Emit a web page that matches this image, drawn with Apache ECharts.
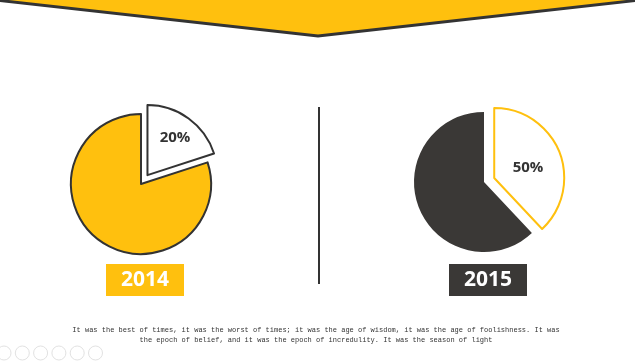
<!DOCTYPE html>
<html><head><meta charset="utf-8">
<script src="https://cdn.jsdelivr.net/npm/echarts@6/dist/echarts.min.js"></script>
<style>html,body{margin:0;padding:0;background:#fff}#c{width:635px;height:361px}</style>
</head><body><div id="c"></div>
<script>
const years = ['2014', '2015'];
const sliceNames = ['Highlighted', 'Rest'];
const pie2014 = [20, 80];
const pie2015 = [38, 62];
const pieLabels = ['20%', '50%'];
const caption1 = 'It was the best of times, it was the worst of times; it was the age of wisdom, it was the age of foolishness. It was';
const caption2 = 'the epoch of belief, and it was the epoch of incredulity. It was the season of light';

const YEL = '#FFC00E', DARK = '#3A3836';
const chart = echarts.init(document.getElementById('c'));

function pie(vals, center, hiStyle, restStyle) {
  return {
    type: 'pie', center: center, radius: 70, startAngle: 90, clockwise: true, z: 2,
    selectedMode: 'single', selectedOffset: 11, animation: false,
    emphasis: { disabled: true },
    label: { show: false }, labelLine: { show: false },
    data: [
      { name: sliceNames[0], value: vals[0], selected: true, itemStyle: hiStyle,
        select: { itemStyle: hiStyle } },
      { name: sliceNames[1], value: vals[1], itemStyle: restStyle }
    ]
  };
}

const icons = [];
for (let i = 0; i < 6; i++) {
  icons.push({ type: 'circle', shape: { cx: 4 + i * 18.3, cy: 353, r: 7 }, style: { fill: 'none', stroke: '#e2e2e2', lineWidth: 1 } });
}
const lblFont = 'bold 15px "Open Sans"';

chart.setOption({
  backgroundColor: '#fff',
  series: [
    pie(pie2014, [141, 184],
      { color: '#fff', borderColor: '#333', borderWidth: 2 },
      { color: YEL, borderColor: '#333', borderWidth: 2 }),
    pie(pie2015, [484, 182],
      { color: '#fff', borderColor: YEL, borderWidth: 2 },
      { color: DARK, borderColor: DARK, borderWidth: 0 })
  ],
  graphic: { elements: [
    { type: 'polygon', shape: { points: [[-5, -5], [640, -5], [640, 0], [318, 36], [-5, 0]] },
      style: { fill: YEL, stroke: '#333', lineWidth: 3 } },
    { type: 'line', shape: { x1: 319, y1: 107, x2: 319, y2: 284 }, style: { stroke: '#333', lineWidth: 2 } },
    { type: 'text', x: 175, y: 138, z: 100, zlevel: 1, style: { text: pieLabels[0], fill: '#333', font: lblFont, align: 'center', verticalAlign: 'middle' } },
    { type: 'text', x: 528, y: 168, z: 100, zlevel: 1, style: { text: pieLabels[1], fill: '#333', font: lblFont, align: 'center', verticalAlign: 'middle' } },
    { type: 'rect', shape: { x: 106, y: 264, width: 78, height: 32 }, style: { fill: YEL } },
    { type: 'text', x: 145, y: 280, style: { text: years[0], fill: '#fff', font: 'bold 21px "Open Sans"', align: 'center', verticalAlign: 'middle' } },
    { type: 'rect', shape: { x: 449, y: 264, width: 78, height: 32 }, style: { fill: DARK } },
    { type: 'text', x: 488, y: 280, style: { text: years[1], fill: '#fff', font: 'bold 21px "Open Sans"', align: 'center', verticalAlign: 'middle' } },
    { type: 'text', x: 316, y: 330, style: { text: caption1, fill: '#333', font: '7px "Liberation Mono"', align: 'center', verticalAlign: 'middle' } },
    { type: 'text', x: 316, y: 340, style: { text: caption2, fill: '#333', font: '7px "Liberation Mono"', align: 'center', verticalAlign: 'middle' } }
  ].concat(icons) }
});
</script></body></html>
